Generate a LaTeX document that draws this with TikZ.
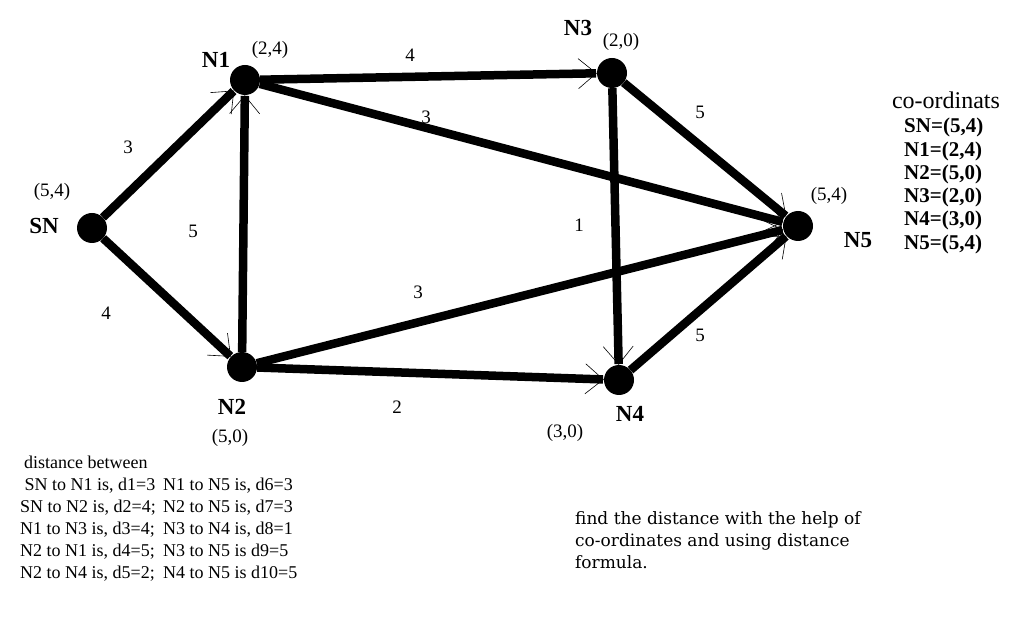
\documentclass[tikz,border=0pt]{standalone}
\usepackage{fontspec}
\setmainfont{Liberation Serif}
\newfontfamily\taskfont{DejaVu Serif}
\usetikzlibrary{arrows.meta}
\tikzset{
  dot/.style   = {circle, fill, inner sep=0pt, minimum size=30pt},
  link/.style  = {line width=8.5pt,
                  -{Straight Barb[line width=0.6pt, length=18pt, width=30pt]}},
  wt/.style    = {font=\fontsize{19}{21}\selectfont},
  nname/.style = {font=\fontsize{23}{25}\selectfont\bfseries},
  xy/.style    = {font=\fontsize{19}{21}\selectfont},
  txt/.style   = {align=left, inner sep=0pt, anchor=north west},
  dtxt/.style  = {txt, font=\fontsize{18}{22}\selectfont},
}

\begin{document}
\begin{tikzpicture}[x=1pt,y=-1pt]
\useasboundingbox (0,0) rectangle (1021,636);
% network nodes
\node[dot] (SN) at (92,228) {};
\node[dot] (N1) at (245,80) {};
\node[dot] (N2) at (242,367) {};
\node[dot] (N3) at (612,73) {};
\node[dot] (N4) at (619,380) {};
\node[dot] (N5) at (798,226) {};
% links
\draw[link] (SN) -- (N1);
\draw[link] (SN) -- (N2);
\draw[link] (N1) -- (N3);
\draw[link] (N2) -- (N1);
\draw[link] (N2) -- (N4);
\draw[link] (N3) -- (N4);
\draw[link] (N1) -- (N5);
\draw[link] (N2) -- (N5);
\draw[link] (N3) -- (N5);
\draw[link] (N4) -- (N5);
% weights
\node[wt] (w1) at (128,147) {3};
\node[wt] (w2) at (106,313) {4};
\node[wt] (w3) at (410,55) {4};
\node[wt] (w4) at (193,231) {5};
\node[wt] (w5) at (397,407) {2};
\node[wt] (w6) at (426,117) {3};
\node[wt] (w7) at (418,292) {3};
\node[wt] (w8) at (579,225) {1};
\node[wt] (w9) at (700,112) {5};
\node[wt] (w10) at (700,335) {5};
% names and co-ordinates
\node[nname] (tSN) at (44,226) {SN};
\node[xy]    (cSN) at (52,192) {(5,4)};
\node[nname] (tN1) at (216,60) {N1};
\node[xy]    (cN1) at (270,50) {(2,4)};
\node[nname] (tN2) at (232,407) {N2};
\node[xy]    (cN2) at (230,438) {(5,0)};
\node[nname] (tN3) at (578,28) {N3};
\node[xy]    (cN3) at (621,42) {(2,0)};
\node[nname] (tN4) at (630,414) {N4};
\node[xy]    (cN4) at (565,433) {(3,0)};
\node[nname] (tN5) at (858,240) {N5};
\node[xy]    (cN5) at (829,196) {(5,4)};
% co-ordinate list
\node[font=\fontsize{24}{26}\selectfont] (head) at (946,100) {co-ordinats};
\node[txt, font=\fontsize{21}{23.3}\selectfont\bfseries] (list) at (904,118)
  {SN=(5,4)\\N1=(2,4)\\N2=(5,0)\\N3=(2,0)\\N4=(3,0)\\N5=(5,4)};
% distances
\node[dtxt] (dhead) at (24,456) {distance between};
\node[dtxt] (dleft) at (20,478)
  {\ SN to N1 is, d1=3\\SN to N2 is, d2=4;\\N1 to N3 is, d3=4;\\
   N2 to N1 is, d4=5;\\N2 to N4 is, d5=2;};
\node[dtxt] (dright) at (163,478)
  {N1 to N5 is, d6=3\\N2 to N5 is, d7=3\\N3 to N4 is, d8=1\\
   N3 to N5 is d9=5\\N4 to N5 is d10=5};
\node[txt, font=\taskfont\fontsize{17}{22}\selectfont] (task) at (575,511)
  {find the distance with the help of\\
   co-ordinates and using distance\\
   formula.};
\end{tikzpicture}
\end{document}
